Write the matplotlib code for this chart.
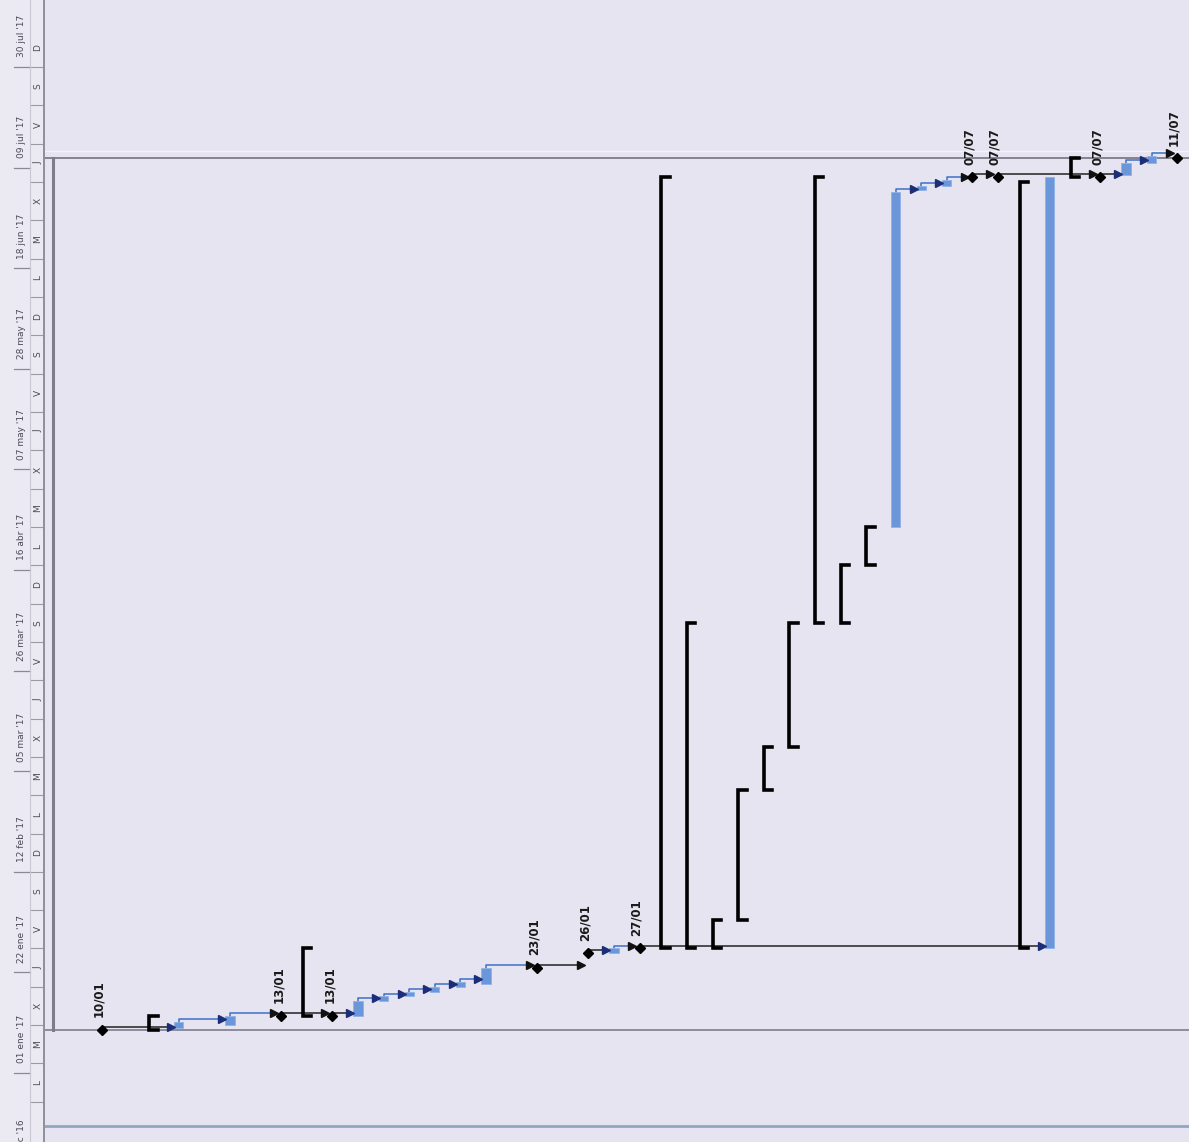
import matplotlib.pyplot as plt
import matplotlib.dates as mdates
import pandas as pd

# --- datos leidos del diagrama (Gantt de MS Project girado 90 grados) ---
# hitos: fila de la tabla y fecha
milestone_rows = [0, 7, 9, 17, 19, 21, 34, 35, 39, 42]
milestone_dates = ['2017-01-10', '2017-01-13', '2017-01-13', '2017-01-23', '2017-01-26',
                   '2017-01-27', '2017-07-07', '2017-07-07', '2017-07-07', '2017-07-11']

# tareas normales (barras azules)
task_rows = [3, 5, 10, 11, 12, 13, 14, 15, 20, 31, 32, 33, 37, 40, 41]
task_start = ['2017-01-10 10:00', '2017-01-11', '2017-01-13', '2017-01-16', '2017-01-17',
              '2017-01-18', '2017-01-19', '2017-01-19 12:00', '2017-01-26', '2017-04-25',
              '2017-07-04 06:00', '2017-07-05 06:00', '2017-01-27', '2017-07-07 12:00', '2017-07-10']
task_end = ['2017-01-11 14:00', '2017-01-13', '2017-01-16', '2017-01-17', '2017-01-18',
            '2017-01-19', '2017-01-20', '2017-01-23', '2017-01-27', '2017-07-04',
            '2017-07-05 06:00', '2017-07-06 12:00', '2017-07-07', '2017-07-10', '2017-07-11 12:00']

# tareas resumen (corchetes negros)
summary_rows = [2, 8, 22, 23, 24, 25, 26, 27, 28, 29, 30, 36, 38]
summary_start = ['2017-01-10', '2017-01-13', '2017-01-27', '2017-01-27', '2017-01-27', '2017-02-02',
                 '2017-03-01', '2017-03-10', '2017-04-05', '2017-04-05', '2017-04-17', '2017-01-27',
                 '2017-07-07']
summary_end = ['2017-01-13', '2017-01-27', '2017-07-07', '2017-04-05', '2017-02-02', '2017-03-01',
               '2017-03-10', '2017-04-05', '2017-07-07', '2017-04-17', '2017-04-25', '2017-07-06',
               '2017-07-11']

# vinculos fin-comienzo (fila predecesora, fila sucesora)
links = [(0, 3), (3, 5), (5, 7), (7, 9), (9, 10), (10, 11), (11, 12), (12, 13), (13, 14),
         (14, 15), (15, 17), (17, 19), (19, 20), (20, 21), (21, 37), (31, 32), (32, 33),
         (33, 34), (34, 35), (35, 39), (39, 40), (40, 41), (41, 42)]

project_start = '2017-01-10'
project_end = '2017-07-11'
status_date = '2016-12-21'

months = ['ene', 'feb', 'mar', 'abr', 'may', 'jun', 'jul', 'ago', 'sep', 'oct', 'nov', 'dic']
weekday_letters = ['L', 'M', 'X', 'J', 'V', 'S', 'D']
major_dates = pd.date_range('2016-12-11', '2017-07-30', freq='21D')
minor_dates = pd.date_range('2016-12-26', '2017-08-04', freq='8D')


def num(d):
    return mdates.date2num(pd.to_datetime(d))


BG = '#e6e4f1'
BLUE = '#6b96d9'
NAVY = '#1c2e78'

fig = plt.figure(figsize=(11.89, 11.42), dpi=100, facecolor=BG)
ts = fig.add_axes([0, 0, 45 / 1189, 1])
ax = fig.add_axes([45 / 1189, 0, 1 - 45 / 1189, 1], sharey=ts)

base = num('2017-01-01')
ax.set_ylim(base - 14.4, base + 224.0)
ax.set_xlim(-2.23, 42.46)
ts.set_xlim(0, 45)
for a in (ax, ts):
    a.set_facecolor(BG)
    for s in a.spines.values():
        s.set_visible(False)
    a.tick_params(left=False, bottom=False, labelleft=False, labelbottom=False)
ts.set_facecolor('#ebeaf3')

# --- escala temporal (izquierda) ---
for d in major_dates:
    y = num(d)
    ts.plot([14, 30], [y, y], color='#8a8a96', lw=0.9)
    ts.text(22, y + 2.0, f"{d.day:02d} {months[d.month - 1]} '{d.year % 100}",
            rotation=90, ha='center', va='bottom', fontsize=6.5, color='#4a4a55',
            clip_on=True)
for d in minor_dates:
    y = num(d)
    ts.plot([31, 44], [y, y], color='#9a9aa6', lw=0.8)
    ts.text(38, y + 4, weekday_letters[d.weekday()], rotation=90, ha='center',
            va='center', fontsize=6.5, color='#4a4a55')
ts.axvline(30, color='#c8c7d4', lw=0.8)
ts.axvline(44.3, color='#8f8f9c', lw=1.4)

# --- lineas de comienzo / fin del proyecto ---
ax.axhline(num(project_start), color='#858594', lw=1.3)
ax.axhline(num(project_end), color='#7b7b8a', lw=1.3)
ax.axhline(num(project_end) + 1.4, color='#f4f3fa', lw=1.0)
ax.axhline(num(status_date), color='#8fa8bf', lw=2.0)
ax.plot([-1.9, -1.9], [num(project_start), num(project_end)], color='#7c7c8a', lw=2.2)

# fin de cada fila (para los vinculos)
finish = {}
kind = {}
for r, d in zip(milestone_rows, milestone_dates):
    finish[r] = num(d)
    kind[r] = 'M'
for r, s, e in zip(task_rows, task_start, task_end):
    finish[r] = num(e)
    kind[r] = 'T'
for r, s, e in zip(summary_rows, summary_start, summary_end):
    finish[r] = num(e)
    kind[r] = 'S'

# --- vinculos ---
for p, s in links:
    y = finish[p] + 0.6
    col = '#3d6fc6' if kind[p] == 'T' else '#222222'
    ax.plot([p, p, s - 0.3], [finish[p], y, y], color=col, lw=1.1, zorder=2)
    acol = NAVY if kind[s] == 'T' else '#111111'
    ax.plot(s - 0.3, y, marker='>', ms=5.5, color=acol, mec=acol, zorder=4)

# --- barras de tareas ---
for r, s, e in zip(task_rows, task_start, task_end):
    ax.bar(r, num(e) - num(s), bottom=num(s), width=0.36, color=BLUE,
           edgecolor='#8fb2e8', linewidth=0.6, zorder=3)

# --- resumenes ---
for r, s, e in zip(summary_rows, summary_start, summary_end):
    y0, y1 = num(s), num(e)
    ax.plot([r + 0.18, r - 0.15, r - 0.15, r + 0.18], [y0, y0, y1, y1],
            color='black', lw=2.6, solid_joinstyle='miter', zorder=3)

# --- hitos ---
for r, d in zip(milestone_rows, milestone_dates):
    y = num(d)
    ax.plot(r, y, marker='D', ms=5.5, color='black', zorder=5)
    ax.text(r - 0.12, y + 2.6, pd.to_datetime(d).strftime('%d/%m'), rotation=90,
            ha='center', va='bottom', fontsize=8.5, fontweight='bold',
            family='DejaVu Sans', color='#1a1a1a')

fig.savefig('out.png', dpi=100, facecolor=BG)
